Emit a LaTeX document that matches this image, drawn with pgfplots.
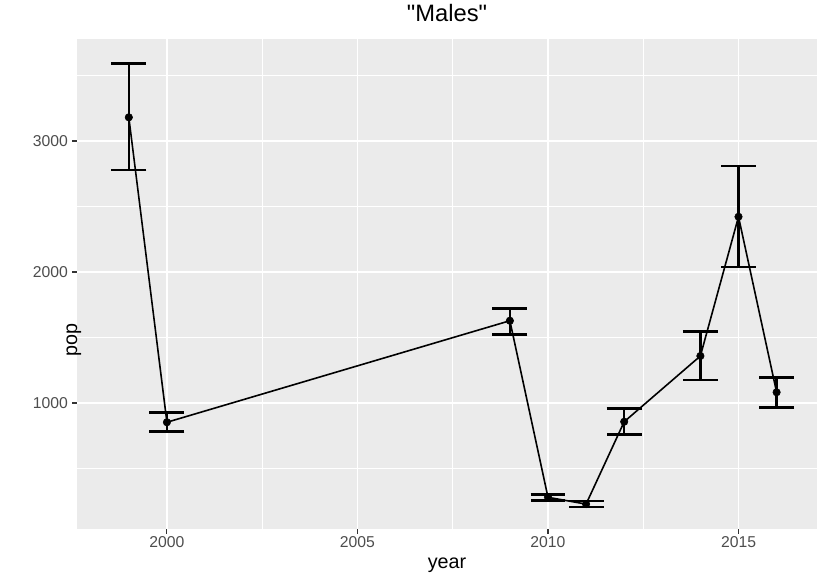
\documentclass[border=0pt]{standalone}
\usepackage{fontspec}
\setmainfont{Liberation Sans}[Ligatures=TeXOff]
\usepackage{pgfplots}
\usepackage{pgfplotstable}
\pgfplotsset{compat=1.18}
\definecolor{panelbg}{HTML}{EBEBEB}
\definecolor{tickcol}{HTML}{4D4D4D}
\definecolor{tickline}{HTML}{333333}
\pgfplotstableread{
year pop lo hi
1999 3181 2779 3593
2000 853 781 926
2009 1628 1524 1723
2010 280 254 303
2011 228 205 250
2012 857 761 959
2014 1359 1176 1544
2015 2422 2040 2811
2016 1082 967 1196
}\datatable
\begin{document}
\begin{tikzpicture}
\begin{axis}[
 at={(0,0)}, anchor=south west,
 scale only axis, width=555bp, height=367.5bp,
 xmin=1997.64, xmax=2017.06, ymin=38, ymax=3779,
 axis background/.style={fill=panelbg},
 axis line style={draw=none},
 xtick={2000,2005,2010,2015}, minor xtick={2002.5,2007.5,2012.5},
 ytick={1000,2000,3000}, minor ytick={500,1500,2500,3500},
 grid=both,
 major grid style={white, line width=1.4bp},
 minor grid style={white, line width=0.7bp},
 tick align=outside, tick pos=left,
 major tick length=3.7bp, minor tick length=0pt,
 tick style={tickline, line width=0.8bp},
 ticklabel style={font=\fontsize{11.8bp}{14bp}\selectfont, text=tickcol, inner sep=0pt},
 xticklabel style={yshift=-1.5bp},
 yticklabel style={xshift=-3bp},
 /pgf/number format/1000 sep={},
 /pgf/number format/assume math mode=true,
 title={"Males"},
 title style={at={(axis description cs:0.5,1)}, anchor=base, yshift=7.5bp, inner sep=0pt, font=\fontsize{17.8bp}{20bp}\selectfont},
 xlabel={year},
 xlabel style={at={(axis description cs:0.5,0)}, anchor=base, yshift=-29.25bp, inner sep=0pt, font=\fontsize{14.8bp}{17bp}\selectfont},
 ylabel={pop},
 ylabel style={at={(axis description cs:0,0.5)}, anchor=base, xshift=-42bp, inner sep=0pt, font=\fontsize{14.8bp}{17bp}\selectfont},
]
\addplot[black, line width=1.2bp, mark=none] table[x=year,y=pop]{\datatable};
\addplot[black, only marks, mark=*, mark size=2.8bp,
  error bars/.cd, y dir=both, y explicit,
  error bar style={line width=1.9bp, black},
  error mark options={rotate=90, mark size=13.1bp, line width=1.9bp, black}]
  table[x=year, y=pop, y error plus expr=\thisrow{hi}-\thisrow{pop}, y error minus expr=\thisrow{pop}-\thisrow{lo}]{\datatable};
\end{axis}
\pgfresetboundingbox
\path (-57.75bp,-34.5bp) rectangle (556.5bp,396.75bp);
\end{tikzpicture}
\end{document}
